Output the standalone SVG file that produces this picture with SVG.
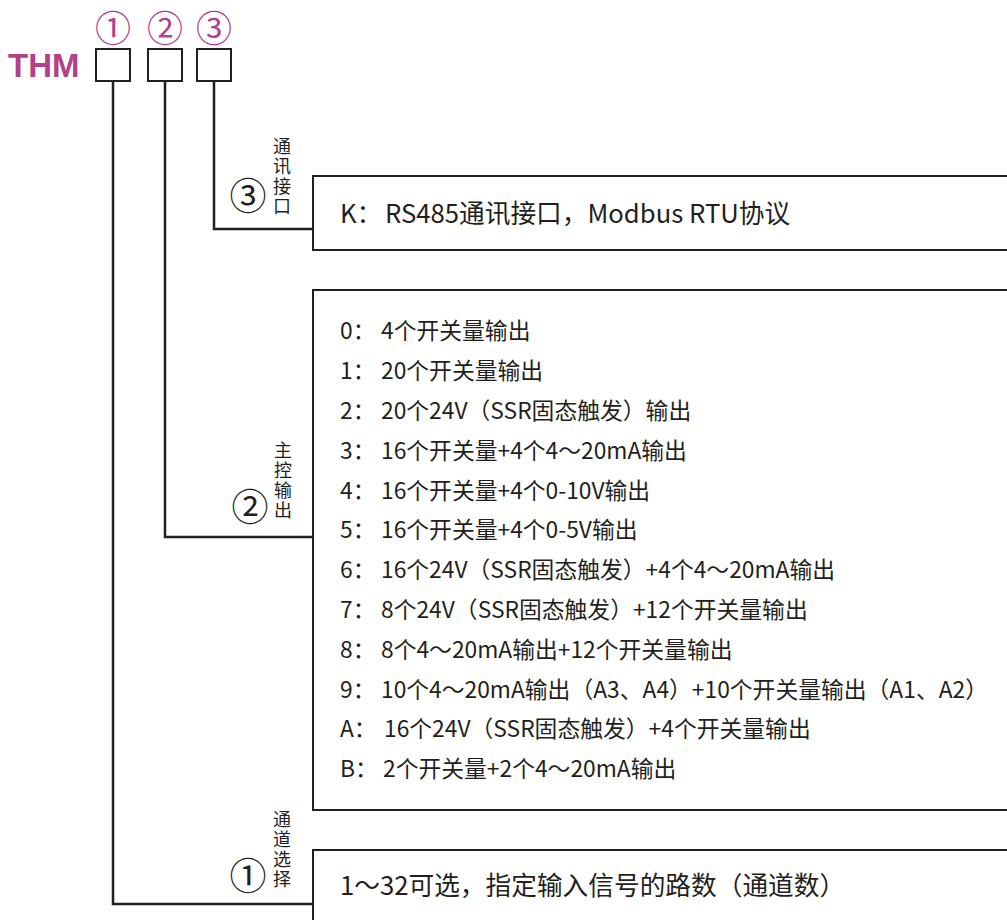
<svg xmlns="http://www.w3.org/2000/svg" width="1007" height="920" viewBox="0 0 1007 920">
<style>
.t{font-family:"Noto Sans CJK SC","Noto Sans",sans-serif;font-size:22.8px;fill:#231f20}
.tb{font-family:"Noto Sans CJK SC","Noto Sans",sans-serif;font-size:25.7px;fill:#231f20}
.v{font-family:"Noto Sans CJK SC",sans-serif;font-size:18px;fill:#231f20;writing-mode:vertical-rl;letter-spacing:2px}
.c{font-family:"Noto Sans CJK SC",sans-serif;font-size:37px;fill:#231f20;text-anchor:middle}
.m{font-family:"Noto Sans CJK SC",sans-serif;font-size:36px;fill:#b0418a;text-anchor:middle}
.box{fill:#fff;stroke:#231f20;stroke-width:2}
.ln{fill:none;stroke:#231f20;stroke-width:2.5}
</style>
<rect width="1007" height="920" fill="#fff"/>
<g id="header">
<text x="8" y="77" font-family="Liberation Sans,Arial,sans-serif" font-weight="bold" font-size="33" fill="#b0418a">THM</text>
<text class="m" x="113" y="42">①</text>
<text class="m" x="165" y="42">②</text>
<text class="m" x="214" y="42">③</text>
<rect class="box" x="96" y="49" width="34" height="32" stroke-width="2.5"/>
<rect class="box" x="148" y="49" width="34" height="32" stroke-width="2.5"/>
<rect class="box" x="197" y="49" width="34" height="32" stroke-width="2.5"/>
</g>
<g id="connectors">
<polyline class="ln" points="113,81 113,904 313,904"/>
<polyline class="ln" points="165,81 165,537 313,537"/>
<polyline class="ln" points="214,81 214,229 313,229"/>
</g>
<g id="node3">
<rect class="box" x="313" y="176" width="720" height="74"/>
<text class="tb" y="223"><tspan x="340">K：</tspan><tspan x="385">RS485通讯接口，Modbus RTU协议</tspan></text>
<text class="c" x="248" y="210">③</text>
<text class="v" x="282" y="137">通讯接口</text>
</g>
<g id="node2">
<rect class="box" x="313" y="290" width="720" height="520"/>
<g class="t">
<text y="339"><tspan x="340">0：</tspan><tspan x="381">4个开关量输出</tspan></text>
<text y="379"><tspan x="340">1：</tspan><tspan x="381">20个开关量输出</tspan></text>
<text y="419"><tspan x="340">2：</tspan><tspan x="381">20个24V（SSR固态触发）输出</tspan></text>
<text y="459"><tspan x="340">3：</tspan><tspan x="381">16个开关量+4个4～20mA输出</tspan></text>
<text y="499"><tspan x="340">4：</tspan><tspan x="381">16个开关量+4个0-10V输出</tspan></text>
<text y="538"><tspan x="340">5：</tspan><tspan x="381">16个开关量+4个0-5V输出</tspan></text>
<text y="578"><tspan x="340">6：</tspan><tspan x="381">16个24V（SSR固态触发）+4个4～20mA输出</tspan></text>
<text y="618"><tspan x="340">7：</tspan><tspan x="381">8个24V（SSR固态触发）+12个开关量输出</tspan></text>
<text y="658"><tspan x="340">8：</tspan><tspan x="381">8个4～20mA输出+12个开关量输出</tspan></text>
<text y="698"><tspan x="340">9：</tspan><tspan x="381">10个4～20mA输出（A3、A4）+10个开关量输出（A1、A2）</tspan></text>
<text y="737"><tspan x="340">A：</tspan><tspan x="384">16个24V（SSR固态触发）+4个开关量输出</tspan></text>
<text y="777"><tspan x="340">B：</tspan><tspan x="383">2个开关量+2个4～20mA输出</tspan></text>
</g>
<text class="c" x="250" y="521">②</text>
<text class="v" x="283" y="441">主控输出</text>
</g>
<g id="node1">
<rect class="box" x="313" y="850" width="720" height="100"/>
<text class="tb" x="340" y="895">1～32可选，指定输入信号的路数（通道数）</text>
<text class="c" x="248" y="890">①</text>
<text class="v" x="282" y="810">通道选择</text>
</g>
</svg>
